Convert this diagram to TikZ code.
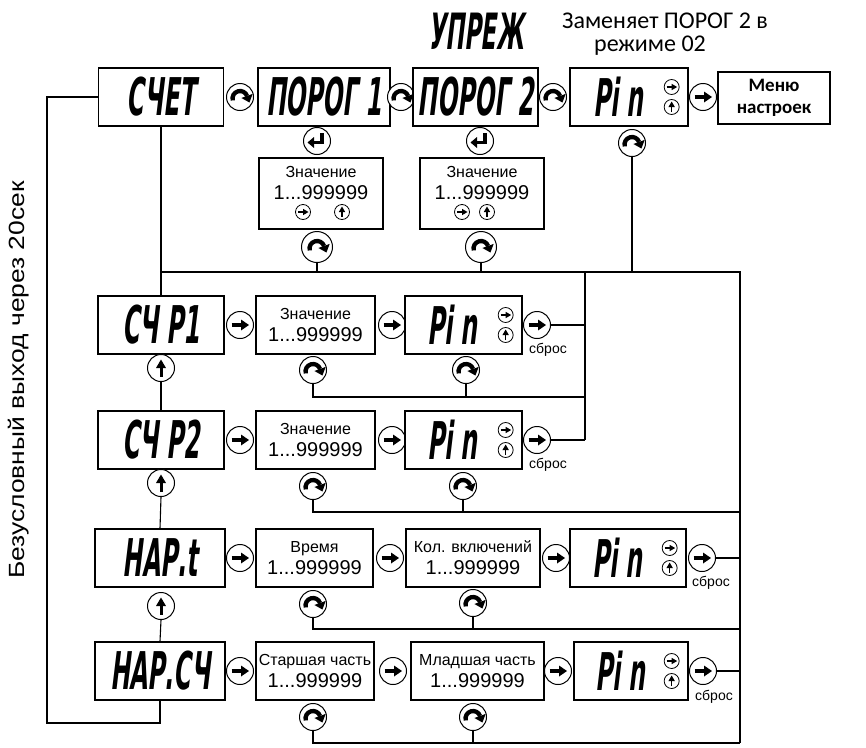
\documentclass[tikz,border=0pt]{standalone}
\usepackage{fontspec}
\setmainfont{Liberation Sans}
\newfontfamily\calfont{Carlito}
\newfontfamily\segfont[FakeSlant=0.12,FakeStretch=0.45]{DejaVu Sans}
\newfontfamily\widefont[FakeStretch=1.2]{Liberation Sans}
\usetikzlibrary{arrows.meta}
\newcommand\numrng{{\fontsize{20}{22}\selectfont 1...999999}}
\newcommand\icocw{\draw[black,line width=4.3pt] (195:7.5) ++(0,-1.5) arc[start angle=195,end angle=20,radius=7.5];
  \fill[black] (12.69,3.12) -- (9.44,-5.51) -- (1.41,-0.98) -- cycle;}
\newcommand\icort{\draw[black,line width=3.4pt] (-8.5,0) -- (2,0); \fill[black] (1,5.5) -- (9,0) -- (1,-5.5) -- cycle;}
\newcommand\icoup{\draw[black,line width=3pt] (0,-8.5) -- (0,1); \fill[black] (-5,0) -- (0,8.5) -- (5,0) -- cycle;}
\newcommand\icoent{\draw[black,line width=3.4pt] (5,8) -- (5,-1.5) -- (-3,-1.5); \fill[black] (-3,4) -- (-9.5,-1.5) -- (-3,-7) -- cycle;}
\newcommand\icosrt{\draw[black,line width=1.6pt] (-5,0) -- (0.5,0); \fill[black] (0,3.2) -- (5.5,0) -- (0,-3.2) -- cycle;}
\newcommand\icosup{\draw[black,line width=1.6pt] (0,-5) -- (0,0.5); \fill[black] (-3.2,0) -- (0,5.5) -- (3.2,0) -- cycle;}
\tikzset{
 conn/.style={line width=1.1pt},
 box/.style={draw, line width=1.3pt, inner sep=0pt, minimum height=58pt, fill=white},
 disp/.style={box, font=\segfont\bfseries\fontsize{52}{52}\selectfont},
 vbox/.style={box, align=center, font=\fontsize{16}{22}\selectfont},
 btnbase/.style={circle, draw, fill=white, line width=1pt, minimum size=27pt, inner sep=0pt},
 bigbtn/.style={minimum size=31pt},
 ico/.style={path picture={\begin{scope}[shift={(path picture bounding box.center)},x=1pt,y=1pt]#1\end{scope}}},
 cwbtn/.style={btnbase, ico=\icocw},
 rtbtn/.style={btnbase, ico=\icort},
 upbtn/.style={btnbase, ico=\icoup},
 entbtn/.style={btnbase, ico=\icoent},
 sico/.style={circle, draw, fill=white, line width=0.8pt, minimum size=15pt, inner sep=0pt},
 srtico/.style={sico, ico=\icosrt},
 supico/.style={sico, ico=\icosup},
 sbros/.style={font=\fontsize{14}{14}\selectfont, inner sep=0pt}
}
\begin{document}
\begin{tikzpicture}[x=1pt,y=-1pt]
\useasboundingbox (0,0) rectangle (866,747);
% title
\node[font=\segfont\bfseries\fontsize{50}{50}\selectfont] (upr) at (476,31) {УПРЕЖ};
\node[font=\calfont\fontsize{24}{24}\selectfont] (note1) at (665,21) {Заменяет ПОРОГ 2 в};
\node[font=\calfont\fontsize{24}{24}\selectfont] (note2) at (650,46) {режиме 02};
\node[rotate=90, font=\widefont\fontsize{22}{22}\selectfont] (vtxt) at (19,380) {Безусловный выход через 20сек};
% row 1
\node[disp, minimum width=125pt] (schet) at (161,97) {СЧЕТ};
\node[cwbtn] (b1a) at (240,97) {};
\node[disp, minimum width=132pt] (por1) at (324,97) {ПОРОГ 1};
\node[cwbtn] (b1b) at (401,97) {};
\node[disp, minimum width=125pt] (por2) at (475.5,97) {ПОРОГ 2};
\node[cwbtn] (b1c) at (553,97) {};
\node[disp, minimum width=118pt] (pin0) at (629,97) {Pi n\hspace*{22pt}};
\node[rtbtn] (b1d) at (703,97) {};
\node[box, minimum width=112pt, minimum height=52pt, align=center, font=\calfont\bfseries\fontsize{19}{22}\selectfont] (menu) at (774,98) {Меню\\настроек};
\node[entbtn] (e1) at (317,141) {};
\node[entbtn] (e2) at (480,141) {};
\node[cwbtn] (pc0) at (632,143) {};
\node[box, minimum width=124pt, minimum height=71pt] (v1) at (321,193.5) {};
\node[font=\fontsize{16}{22}\selectfont, align=center] (v1t) at (321,183) {Значение\\\numrng};
\node[srtico] (v1a) at (303,212) {};
\node[supico] (v1b) at (342,212) {};
\node[box, minimum width=124pt, minimum height=71pt] (v2) at (482,193.5) {};
\node[font=\fontsize{16}{22}\selectfont, align=center] (v2t) at (482,183) {Значение\\\numrng};
\node[srtico] (v2a) at (462,212) {};
\node[supico] (v2b) at (487,212) {};
\node[cwbtn, bigbtn] (c1) at (317,247) {};
\node[cwbtn, bigbtn] (c2) at (481,247) {};
% row 2
\node[disp, minimum width=126pt] (cp1) at (161,325) {СЧ Р1};
\node[rtbtn] (b2a) at (240,325) {};
\node[vbox, minimum width=119pt] (v21) at (315.5,325) {Значение\\\numrng};
\node[rtbtn] (b2b) at (392,325) {};
\node[disp, minimum width=117pt] (pin2) at (463.5,325) {Pi n\hspace*{22pt}};
\node[rtbtn] (b2c) at (537,325) {};
\node[upbtn] (u1) at (161,368) {};
\node[cwbtn] (c2a) at (313,370) {};
\node[cwbtn] (c2b) at (466,370) {};
% row 3
\node[disp, minimum width=126pt] (cp2) at (161,440) {СЧ Р2};
\node[rtbtn] (b3a) at (240,440) {};
\node[vbox, minimum width=119pt] (v31) at (315.5,440) {Значение\\\numrng};
\node[rtbtn] (b3b) at (392,440) {};
\node[disp, minimum width=117pt] (pin3) at (463.5,440) {Pi n\hspace*{22pt}};
\node[rtbtn] (b3c) at (537,440) {};
\node[upbtn] (u2) at (161,483) {};
\node[cwbtn] (c3a) at (313,486) {};
\node[cwbtn] (c3b) at (463,486) {};
% row 4
\node[disp, minimum width=130pt] (nt) at (160,558) {НАР.t};
\node[rtbtn] (b4a) at (240,558) {};
\node[vbox, minimum width=117pt] (vt) at (314.5,558) {Время\\\numrng};
\node[rtbtn] (b4b) at (390,558) {};
\node[vbox, minimum width=134pt] (kol) at (473,558) {Кол. включений\\\numrng};
\node[rtbtn] (b4c) at (556,558) {};
\node[disp, minimum width=116pt] (pin4) at (628,558) {Pi n\hspace*{22pt}};
\node[rtbtn] (b4d) at (702,558) {};
\node[upbtn] (u3) at (161,606) {};
\node[cwbtn] (c4a) at (313,604) {};
\node[cwbtn] (c4b) at (473,603) {};
% row 5
\node[disp, minimum width=130pt] (nc) at (160,671) {НАР.СЧ};
\node[rtbtn] (b5a) at (240,671) {};
\node[vbox, minimum width=118pt] (st) at (315,671) {Старшая часть\\\numrng};
\node[rtbtn] (b5b) at (393,671) {};
\node[vbox, minimum width=133pt] (ml) at (477.5,671) {Младшая часть\\\numrng};
\node[rtbtn] (b5c) at (558,671) {};
\node[disp, minimum width=114pt] (pin5) at (631,671) {Pi n\hspace*{22pt}};
\node[rtbtn] (b5d) at (703,671) {};
\node[cwbtn] (c5a) at (313,717) {};
\node[cwbtn] (c5b) at (473,717) {};
% pin icons
\foreach \p in {pin0,pin2,pin3,pin4,pin5}{
  \node[srtico] (\p r) at ([shift={(-17,-10)}]\p.east) {};
  \node[supico] (\p u) at ([shift={(-17,10)}]\p.east) {};
}
% reset labels
\node[sbros] (s2) at (548,350) {сброс};
\node[sbros] (s3) at (548,465) {сброс};
\node[sbros] (s4) at (711,583) {сброс};
\node[sbros] (s5) at (714,697) {сброс};
% coordinates
\coordinate (busL) at (161,272);
\coordinate (busR) at (740,272);
\coordinate (bus2) at (585,272);
\coordinate (j2) at (585,397);
\coordinate (j3) at (740,512);
\coordinate (j4) at (740,629);
\coordinate (j5) at (740,743);
\coordinate (lp) at (47,723);
% connectors
\begin{scope}[conn]
\draw (schet.south) -- (cp1.north);
\draw (busL) -- (busR) -- (j5);
\draw (c1.south) -- (c1 |- busL);
\draw (c2.south) -- (c2 |- busL);
\draw (pc0.south) -- (pc0 |- busL);
\draw (bus2) -- (b3c -| bus2);
\draw (b2c.east) -- (b2c -| bus2);
\draw (b3c.east) -- (b3c -| bus2);
\draw (c2a.south) |- (j2);
\draw (c2b.south) -- (c2b |- j2);
\draw (u1.south) -- (cp2.north);
\draw (u2.south) -- (nt.north);
\draw (u3.south) -- (nc.north);
\draw (c3a.south) |- (j3);
\draw (c3b.south) -- (c3b |- j3);
\draw (b4d.east) -- (b4d -| j3);
\draw (c4a.south) |- (j4);
\draw (c4b.south) -- (c4b |- j4);
\draw (b5d.east) -- (b5d -| j3);
\draw (c5a.south) |- (j5);
\draw (c5b.south) -- (c5b |- j5);
\draw (nc.south) |- (lp) |- (schet.west);
\end{scope}
\end{tikzpicture}
\end{document}
